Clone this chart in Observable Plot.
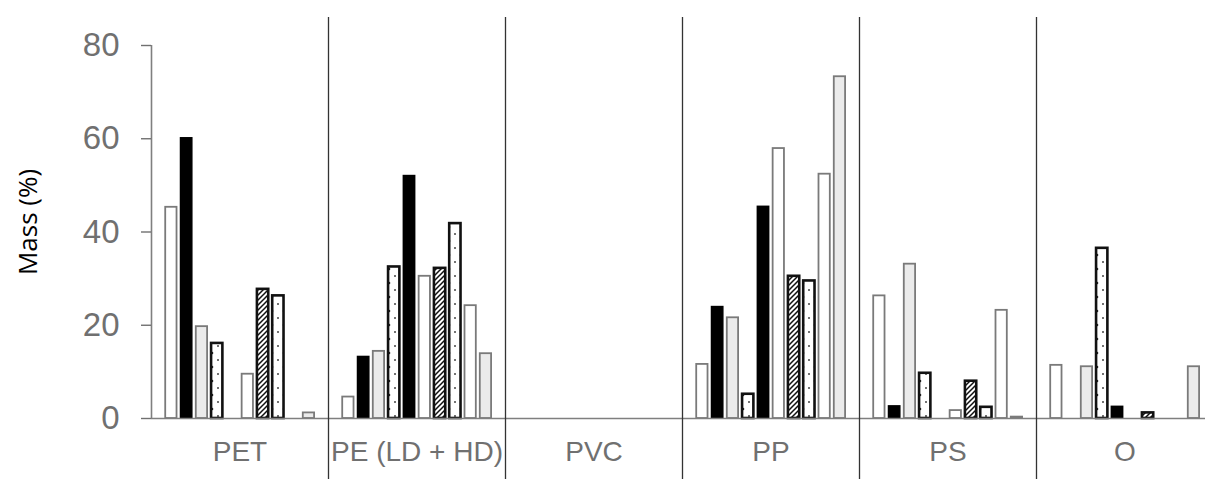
<!DOCTYPE html>
<html>
<head>
<meta charset="utf-8">
<script src="https://cdn.jsdelivr.net/npm/d3@7"></script>
<script src="https://cdn.jsdelivr.net/npm/@observablehq/plot@0.6"></script>
<style>
  html, body { margin: 0; padding: 0; background: #ffffff; overflow: hidden; }
  #chart svg { display: block; }
</style>
</head>
<body>
<div id="chart"></div>
<script>
// Categories (plastic type)
const groups = ["PET", "PE (LD + HD)", "PVC", "PP", "PS", "O"];
const yTicks = [0, 20, 40, 60, 80];

// Ten sample series, values per category (PET, PE, PVC, PP, PS, O), mass %
const s1  = [45.3,  4.6, 0, 11.6, 26.3, 11.4];
const s2  = [60.1, 13.2, 0, 23.9,  2.6,  0];
const s3  = [19.7, 14.4, 0, 21.6, 33.1, 11.1];
const s4  = [16.1, 32.5, 0,  5.2,  9.7, 36.5];
const s5  = [ 0,   52.0, 0, 45.4,  0,    2.5];
const s6  = [ 9.5, 30.5, 0, 57.9,  1.7,  0];
const s7  = [27.7, 32.2, 0, 30.5,  8.0,  1.2];
const s8  = [26.3, 41.8, 0, 29.5,  2.4,  0];
const s9  = [ 0,   24.2, 0, 52.4, 23.2,  0];
const s10 = [ 1.2, 13.9, 0, 73.3,  0.3, 11.1];
const series = [s1, s2, s3, s4, s5, s6, s7, s8, s9, s10];

// Styles for each series (kept separate from values)
const styles = [
  {fill: "#ffffff",     stroke: "#7a7a7a", sw: 1.8},
  {fill: "#000000",     stroke: "#000000", sw: 1.5},
  {fill: "#ebebeb",     stroke: "#7a7a7a", sw: 1.8},
  {fill: "url(#dots)",  stroke: "#111111", sw: 2.6},
  {fill: "#000000",     stroke: "#000000", sw: 1.5},
  {fill: "#ffffff",     stroke: "#7a7a7a", sw: 1.8},
  {fill: "url(#hatch)", stroke: "#111111", sw: 2.6},
  {fill: "url(#dots)",  stroke: "#111111", sw: 2.6},
  {fill: "#ffffff",     stroke: "#7a7a7a", sw: 1.8},
  {fill: "#ebebeb",     stroke: "#7a7a7a", sw: 1.8}
];

const rows = [];
series.forEach((vals, k) => vals.forEach((v, g) => rows.push({group: groups[g], slot: k, value: v})));

const slotOffset = 1.3, halfW = 0.37;

const barMarks = series.map((_, k) => Plot.rectY(rows.filter(d => d.slot === k && d.value > 0), {
  fx: "group",
  x1: d => d.slot + slotOffset - halfW,
  x2: d => d.slot + slotOffset + halfW,
  y1: 0,
  y2: "value",
  fill: styles[k].fill,
  stroke: styles[k].stroke,
  strokeWidth: styles[k].sw
}));

const chart = Plot.plot({
  width: 1205,
  height: 479,
  marginLeft: 148,
  marginRight: -10,
  marginTop: 45,
  marginBottom: 61,
  style: {fontFamily: "'Liberation Sans', Arial, sans-serif", background: "#ffffff"},
  fx: {domain: groups, padding: 0, axis: null, label: null},
  x: {type: "linear", domain: [0, 11.58], axis: null},
  y: {domain: [0, 80], axis: null},
  marks: [
    ...barMarks,
    Plot.ruleY([0], {stroke: "#7f7f7f", strokeWidth: 1.6}),
    Plot.ruleX(groups.slice(1), {fx: d => d, x: 0, stroke: "#333333", strokeWidth: 1.3, insetTop: -28, insetBottom: -61}),
    Plot.ruleX(groups.slice(0, 1), {fx: d => d, x: 0, y1: 0, y2: 80, stroke: "#7f7f7f", strokeWidth: 1.6}),
    Plot.axisY({ticks: yTicks, tickSize: 10, tickPadding: 22, fontSize: 33, color: "#707070", label: null, strokeWidth: 1.4}),
    Plot.axisFx({anchor: "bottom", tickSize: 0, tickPadding: 23, fontSize: 28, color: "#707070", label: null}),
    Plot.text(["Mass (%)"], {fx: () => groups[0], frameAnchor: "left", textAnchor: "middle", lineAnchor: "middle",
      dx: -123, dy: -10, rotate: -90, fontSize: 26, fill: "#000000", fontFamily: "'Open Sans', sans-serif"})
  ]
});

// Pattern definitions for dotted and hatched fills
const svg = d3.select(chart.tagName.toLowerCase() === "svg" ? chart : chart.querySelector("svg"));
const defs = svg.insert("defs", ":first-child");
const dots = defs.append("pattern").attr("id", "dots").attr("patternUnits", "userSpaceOnUse")
  .attr("width", 12).attr("height", 14);
dots.append("rect").attr("width", 12).attr("height", 14).attr("fill", "#ffffff");
dots.append("circle").attr("cx", 5).attr("cy", 3).attr("r", 1.3).attr("fill", "#222");
dots.append("circle").attr("cx", 11).attr("cy", 10).attr("r", 1.0).attr("fill", "#444");
const hatch = defs.append("pattern").attr("id", "hatch").attr("patternUnits", "userSpaceOnUse")
  .attr("width", 5).attr("height", 5);
hatch.append("rect").attr("width", 5).attr("height", 5).attr("fill", "#ffffff");
hatch.append("path").attr("d", "M-1,6 L6,-1 M-1,1 L1,-1 M4,6 L6,4")
  .attr("stroke", "#111").attr("stroke-width", 1.5);

document.getElementById("chart").appendChild(chart);
</script>
</body>
</html>
